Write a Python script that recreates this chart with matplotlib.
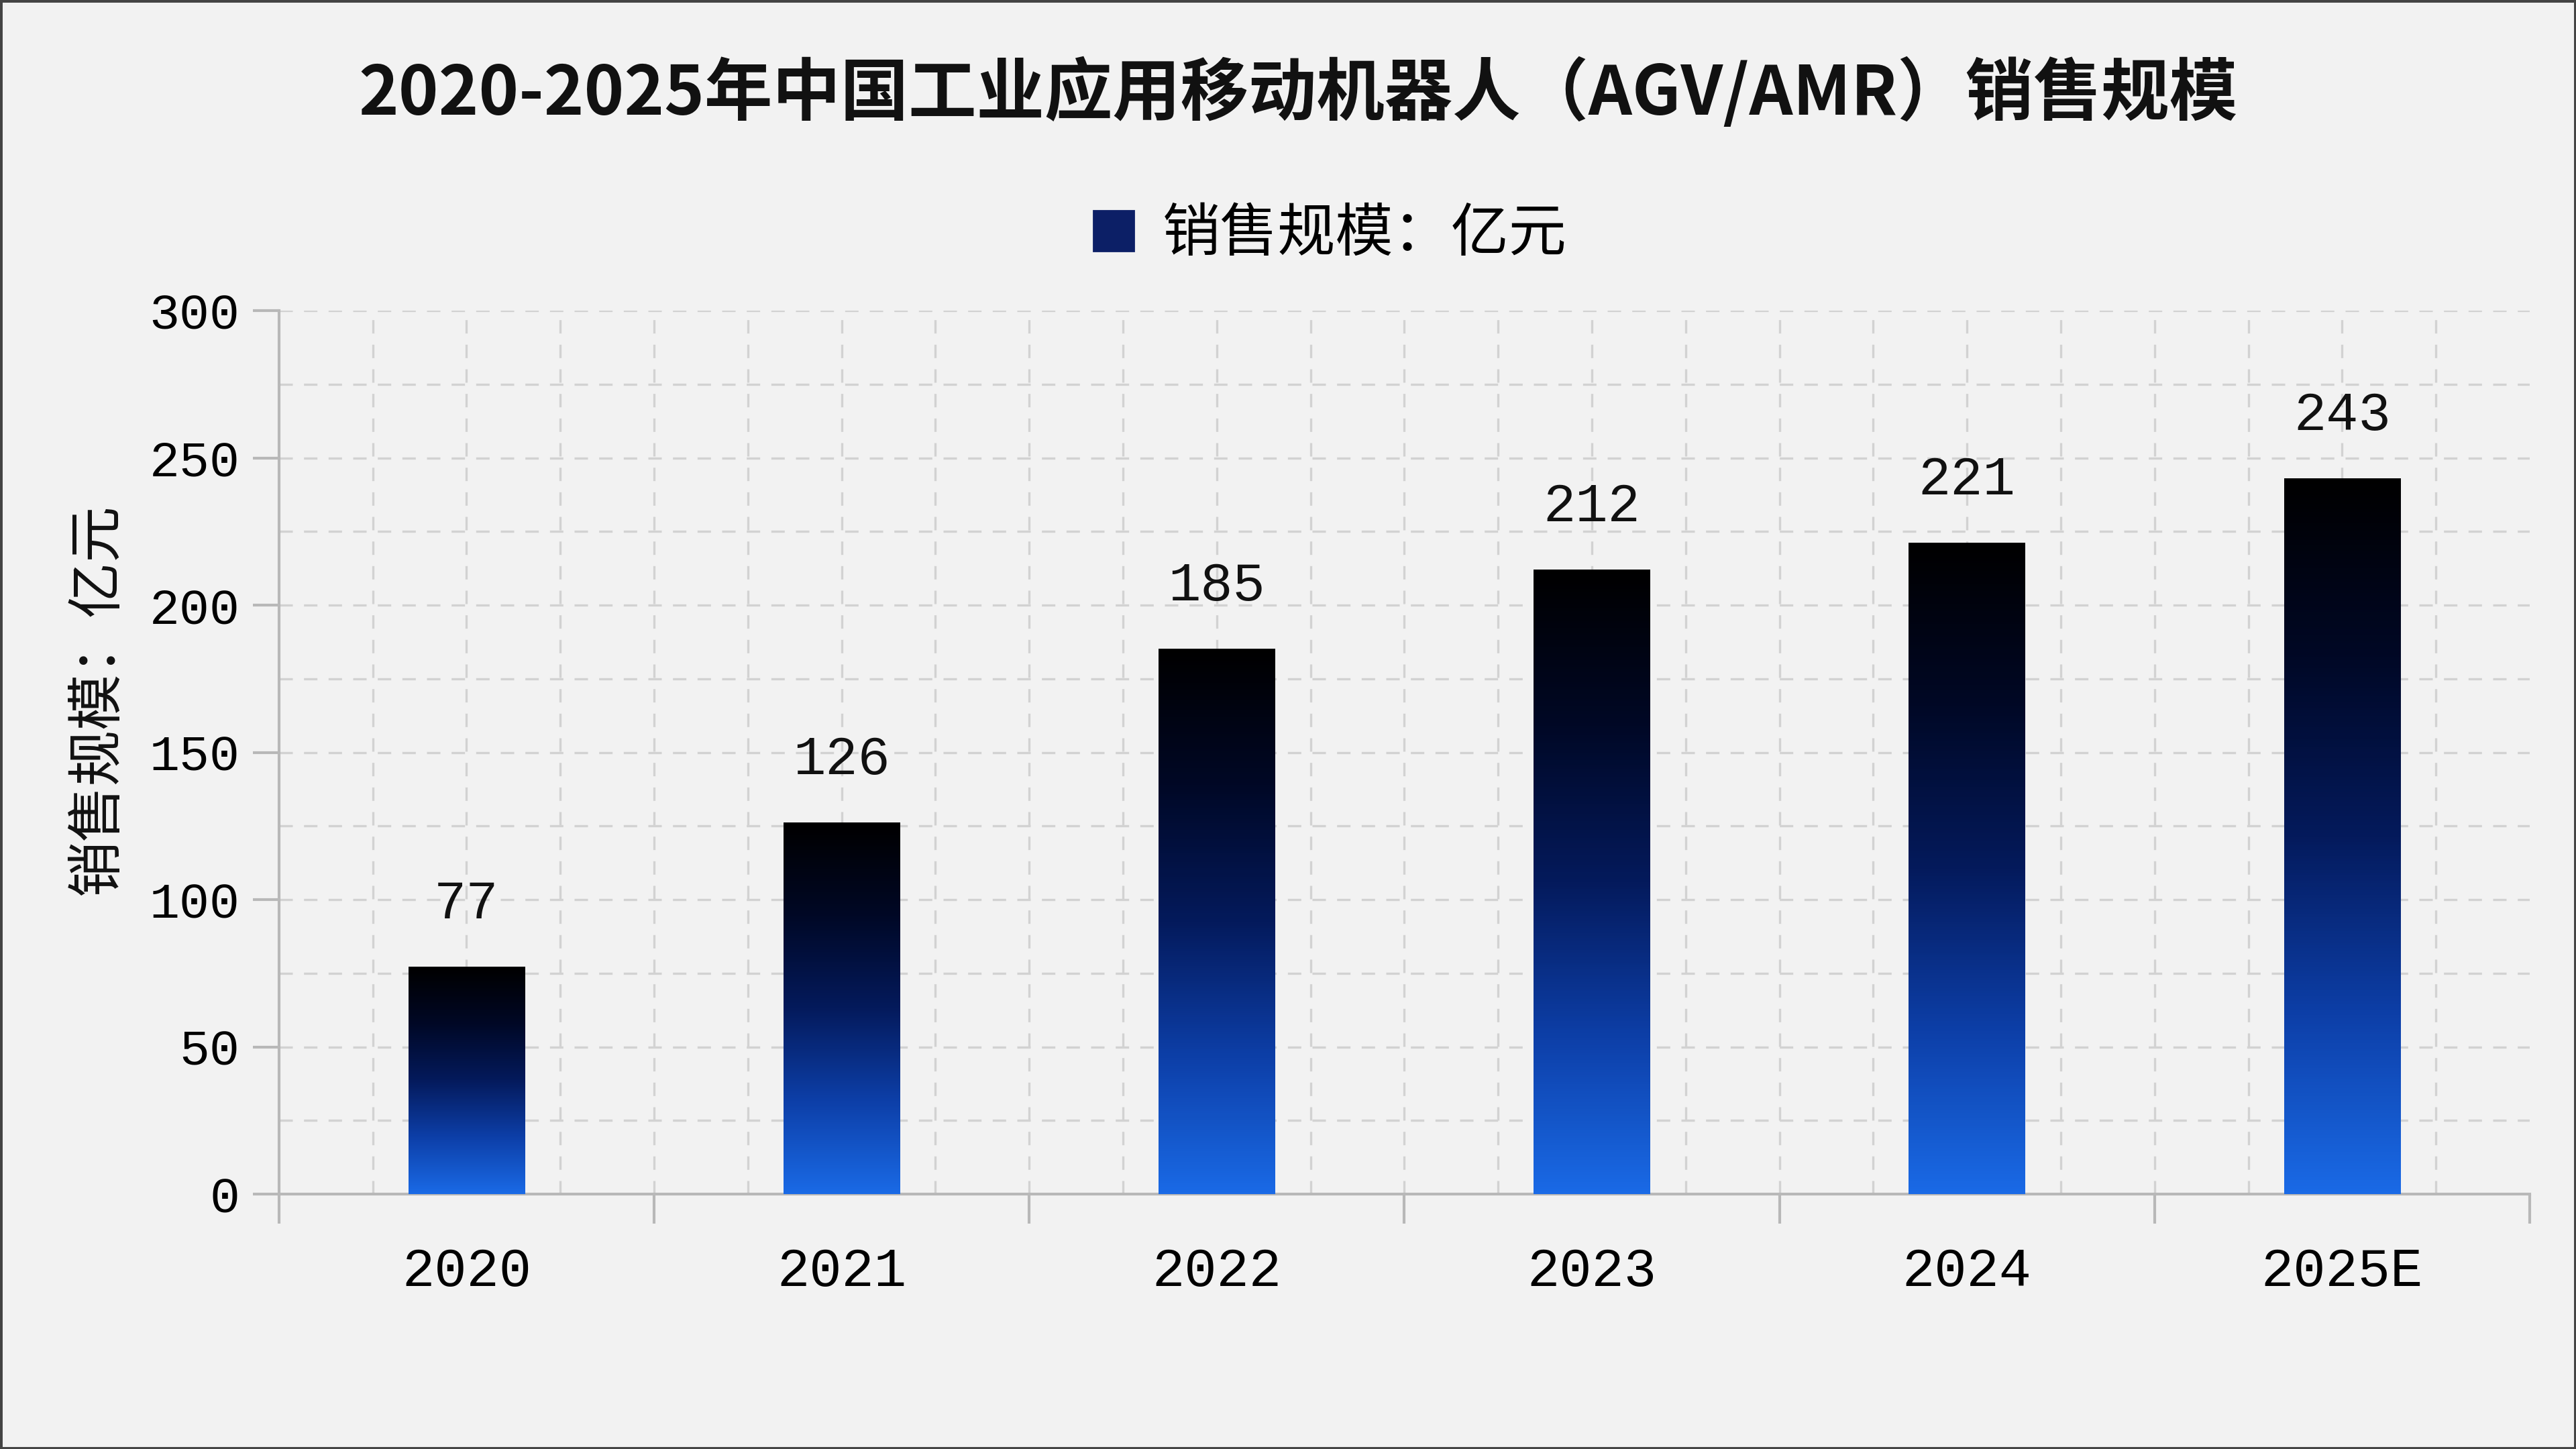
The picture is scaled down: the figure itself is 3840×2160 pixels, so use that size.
import numpy as np
import matplotlib
matplotlib.use('Agg')
from matplotlib import pyplot as plt
from matplotlib.colors import LinearSegmentedColormap
from matplotlib.ticker import MultipleLocator, FixedLocator
from matplotlib.patches import Rectangle

plt.rcParams['font.family'] = ['Noto Sans CJK SC', 'DejaVu Sans']

# data
years = ['2020', '2021', '2022', '2023', '2024', '2025E']
sales = [77, 126, 185, 212, 221, 243]

title = '2020-2025年中国工业应用移动机器人（AGV/AMR）销售规模'
series_name = '销售规模：亿元'
ylabel = '销售规模：亿元'

bg = '#f2f2f2'
grad = LinearSegmentedColormap.from_list(
    'bar', [(0.0, '#1a6ae6'), (0.25, '#0d3fa8'), (0.5, '#041a5c'),
            (0.75, '#000826'), (1.0, '#000000')])

fig = plt.figure(figsize=(19.2, 10.8), dpi=200, facecolor=bg)
ax = fig.add_axes([0.1083, 0.1759, 0.8737, 0.6097])
ax.set_facecolor(bg)

x = np.arange(len(years))
width = 0.31
bars = ax.bar(x, sales, width, color='none', edgecolor='none', zorder=3)
# gradient fill: black on top, blue at the bottom of every bar
g = np.linspace(0, 1, 256).reshape(-1, 1)
for b in bars:
    x0, y0 = b.get_x(), b.get_y()
    ax.imshow(g, cmap=grad, origin='lower', aspect='auto', zorder=3,
              extent=[x0, x0 + b.get_width(), y0, y0 + b.get_height()])

for xi, v in zip(x, sales):
    ax.annotate(str(v), (xi, v), xytext=(0, 20), textcoords='offset points',
                ha='center', va='bottom', fontsize=29, family='Liberation Mono',
                color='#111111', zorder=4)

ax.set_xlim(-0.5, len(years) - 0.5)
ax.set_ylim(0, 300)

# category labels between boundary ticks
ax.xaxis.set_major_locator(FixedLocator(np.arange(-0.5, len(years), 1.0)))
ax.set_xticklabels([])
ax.xaxis.set_minor_locator(FixedLocator(x))
ax.set_xticks(x, years, minor=True)
ax.tick_params(axis='x', which='major', length=16, width=1.5, color='#b8b8b8')
ax.tick_params(axis='x', which='minor', length=0, pad=28, labelsize=29)
for t in ax.get_xticklabels(minor=True):
    t.set_family('Liberation Mono')

ax.yaxis.set_major_locator(MultipleLocator(50))
ax.tick_params(axis='y', which='major', length=14, width=1.5, color='#b8b8b8',
               labelsize=27, pad=7)
for t in ax.get_yticklabels():
    t.set_family('Liberation Mono')

# dashed grid, finer than the ticks
for v in np.arange(25, 300.1, 25):
    ax.axhline(v, color='#d2d2d2', lw=1.2, ls=(0, (6, 5)), zorder=1)
for v in np.arange(-0.25, len(years) - 0.5, 0.25):
    ax.axvline(v, color='#d2d2d2', lw=1.2, ls=(0, (6, 5)), zorder=1)

for s in ['top', 'right']:
    ax.spines[s].set_visible(False)
for s in ['left', 'bottom']:
    ax.spines[s].set_color('#b8b8b8')
    ax.spines[s].set_linewidth(1.5)

ax.set_ylabel(ylabel, fontsize=30, color='#111111')
ax.yaxis.set_label_coords(-0.068, 0.56)

fig.text(0.504, 0.935, title, ha='center', va='center', fontsize=36.5,
         fontweight='bold', color='#111111')

# legend
leg = ax.legend([Rectangle((0, 0), 1, 1, color='#0c1f66')], [series_name],
                loc='center', bbox_to_anchor=(0.467, 1.086), frameon=False,
                fontsize=31, handlelength=0.7, handleheight=0.7, handletextpad=0.5)

fig.patches.append(Rectangle((0, 0), 1, 1, transform=fig.transFigure, fill=False,
                             edgecolor='#444444', lw=2.5))

fig.savefig('out.png', dpi=200, facecolor=bg)
